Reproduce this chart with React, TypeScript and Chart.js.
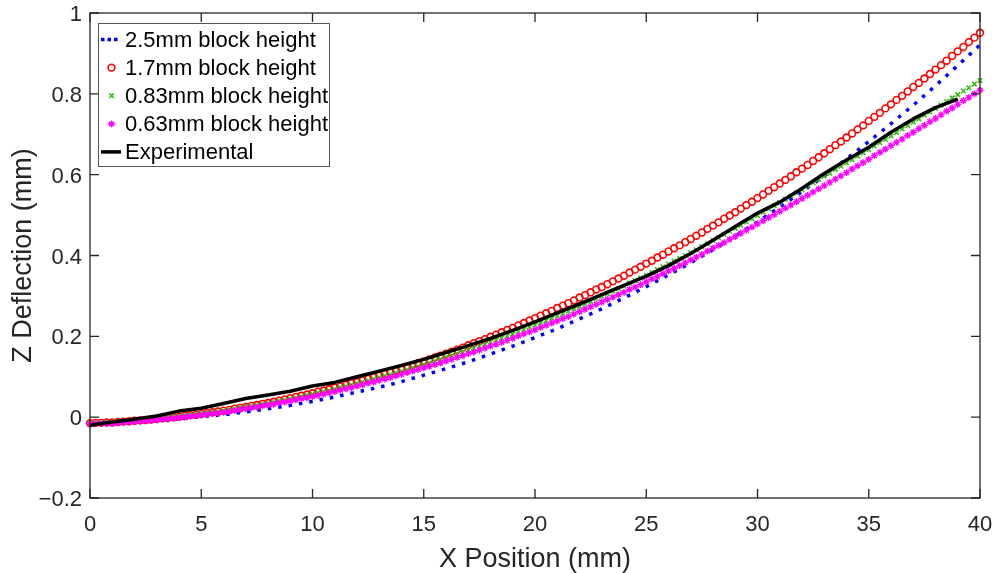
import React, { useEffect, useRef } from 'react';
import { Chart, registerables } from 'chart.js';
import { drawPoint } from 'chart.js/helpers';

Chart.register(...registerables);

const FONT = "'Liberation Sans', Arial, Helvetica, sans-serif";

// x spacing (mm) of each data set
const SIM_STEP = 0.25;
const BLUE_STEP = 1;
const EXP_STEP = 1;

const LABELS = [
  '2.5mm block height',
  '1.7mm block height',
  '0.83mm block height',
  '0.63mm block height',
  'Experimental',
];

// 2.5mm block height (x = 0..40 step 1)
const h25 = [
  -0.015, -0.014, -0.011, -0.008, -0.004, 0.001, 0.006, 0.013, 0.021, 0.029,
  0.039, 0.05, 0.062, 0.074, 0.088, 0.104, 0.12, 0.137, 0.156, 0.176,
  0.197, 0.219, 0.243, 0.268, 0.295, 0.323, 0.352, 0.382, 0.414, 0.448,
  0.483, 0.52, 0.558, 0.597, 0.639, 0.682, 0.726, 0.772, 0.82, 0.87, 0.921,
];

// 1.7mm block height (x = 0..40 step 0.25)
const h17 = [
  -0.015, -0.014, -0.014, -0.013, -0.013, -0.012, -0.011, -0.01, -0.009, -0.008,
  -0.007, -0.006, -0.004, -0.003, -0.002, 0.0, 0.001, 0.003, 0.005, 0.006,
  0.008, 0.01, 0.012, 0.014, 0.016, 0.018, 0.021, 0.023, 0.025, 0.028,
  0.03, 0.033, 0.035, 0.038, 0.041, 0.044, 0.047, 0.05, 0.053, 0.056,
  0.059, 0.063, 0.066, 0.069, 0.073, 0.076, 0.08, 0.084, 0.087, 0.091,
  0.095, 0.099, 0.103, 0.107, 0.112, 0.116, 0.12, 0.125, 0.129, 0.134,
  0.138, 0.143, 0.148, 0.152, 0.157, 0.162, 0.167, 0.172, 0.178, 0.183,
  0.188, 0.193, 0.199, 0.204, 0.21, 0.216, 0.221, 0.227, 0.233, 0.239,
  0.245, 0.251, 0.257, 0.263, 0.27, 0.276, 0.282, 0.289, 0.296, 0.302,
  0.309, 0.316, 0.322, 0.329, 0.336, 0.343, 0.35, 0.358, 0.365, 0.372,
  0.38, 0.387, 0.395, 0.402, 0.41, 0.418, 0.425, 0.433, 0.441, 0.449,
  0.457, 0.466, 0.474, 0.482, 0.491, 0.499, 0.507, 0.516, 0.525, 0.533,
  0.542, 0.551, 0.56, 0.569, 0.578, 0.587, 0.596, 0.606, 0.615, 0.624,
  0.634, 0.643, 0.653, 0.663, 0.673, 0.682, 0.692, 0.702, 0.712, 0.722,
  0.733, 0.743, 0.753, 0.764, 0.774, 0.785, 0.795, 0.806, 0.817, 0.827,
  0.838, 0.849, 0.86, 0.871, 0.882, 0.894, 0.905, 0.916, 0.928, 0.939, 0.951,
];

// 0.83mm block height (x = 0..40 step 0.25)
const h083 = [
  -0.015, -0.014, -0.014, -0.013, -0.012, -0.011, -0.011, -0.01, -0.009, -0.008,
  -0.006, -0.005, -0.004, -0.003, -0.001, 0.0, 0.002, 0.003, 0.005, 0.007,
  0.008, 0.01, 0.012, 0.014, 0.016, 0.018, 0.02, 0.023, 0.025, 0.027,
  0.029, 0.032, 0.034, 0.037, 0.04, 0.042, 0.045, 0.048, 0.051, 0.054,
  0.057, 0.06, 0.063, 0.066, 0.069, 0.073, 0.076, 0.08, 0.083, 0.087,
  0.09, 0.094, 0.098, 0.102, 0.105, 0.109, 0.113, 0.117, 0.122, 0.126,
  0.13, 0.134, 0.139, 0.143, 0.148, 0.152, 0.157, 0.161, 0.166, 0.171,
  0.176, 0.181, 0.186, 0.191, 0.196, 0.201, 0.206, 0.212, 0.217, 0.223,
  0.228, 0.234, 0.239, 0.245, 0.251, 0.256, 0.262, 0.268, 0.274, 0.28,
  0.286, 0.293, 0.299, 0.305, 0.312, 0.318, 0.324, 0.331, 0.338, 0.344,
  0.351, 0.358, 0.365, 0.372, 0.379, 0.386, 0.393, 0.4, 0.407, 0.414,
  0.422, 0.429, 0.437, 0.444, 0.452, 0.46, 0.467, 0.475, 0.483, 0.491,
  0.499, 0.507, 0.515, 0.523, 0.531, 0.539, 0.547, 0.555, 0.563, 0.572,
  0.58, 0.588, 0.596, 0.604, 0.613, 0.621, 0.629, 0.637, 0.646, 0.654,
  0.662, 0.671, 0.679, 0.687, 0.696, 0.704, 0.713, 0.721, 0.73, 0.738,
  0.747, 0.755, 0.764, 0.772, 0.781, 0.79, 0.798, 0.807, 0.815, 0.824, 0.833,
];

// 0.63mm block height (x = 0..40 step 0.25)
const h063 = [
  -0.017, -0.016, -0.016, -0.015, -0.015, -0.014, -0.013, -0.012, -0.011, -0.01,
  -0.009, -0.008, -0.007, -0.005, -0.004, -0.003, -0.001, 0.0, 0.002, 0.003,
  0.005, 0.007, 0.009, 0.01, 0.012, 0.014, 0.016, 0.019, 0.021, 0.023,
  0.025, 0.028, 0.03, 0.032, 0.035, 0.037, 0.04, 0.043, 0.046, 0.048,
  0.051, 0.054, 0.057, 0.06, 0.063, 0.067, 0.07, 0.073, 0.077, 0.08,
  0.084, 0.087, 0.091, 0.094, 0.098, 0.102, 0.106, 0.11, 0.114, 0.118,
  0.122, 0.126, 0.13, 0.134, 0.139, 0.143, 0.148, 0.152, 0.157, 0.161,
  0.166, 0.171, 0.176, 0.18, 0.185, 0.19, 0.195, 0.201, 0.206, 0.211,
  0.216, 0.222, 0.227, 0.233, 0.238, 0.244, 0.249, 0.255, 0.261, 0.267,
  0.273, 0.279, 0.285, 0.291, 0.297, 0.303, 0.309, 0.316, 0.322, 0.328,
  0.335, 0.342, 0.348, 0.355, 0.362, 0.368, 0.375, 0.382, 0.389, 0.396,
  0.403, 0.411, 0.418, 0.425, 0.432, 0.44, 0.447, 0.455, 0.463, 0.47,
  0.478, 0.486, 0.494, 0.501, 0.509, 0.517, 0.525, 0.533, 0.541, 0.549,
  0.557, 0.565, 0.573, 0.581, 0.589, 0.597, 0.605, 0.614, 0.622, 0.63,
  0.638, 0.647, 0.655, 0.663, 0.672, 0.68, 0.688, 0.697, 0.705, 0.714,
  0.722, 0.731, 0.739, 0.748, 0.757, 0.765, 0.774, 0.783, 0.791, 0.8, 0.809,
];

// Experimental (x = 0..39 step 1)
const experimental = [
  -0.02, -0.012, -0.005, 0.003, 0.015, 0.022, 0.034, 0.046, 0.055, 0.064,
  0.077, 0.086, 0.1, 0.114, 0.128, 0.143, 0.16, 0.177, 0.195, 0.215,
  0.236, 0.258, 0.28, 0.303, 0.326, 0.349, 0.375, 0.405, 0.438, 0.472,
  0.505, 0.532, 0.566, 0.603, 0.636, 0.668, 0.705, 0.738, 0.766, 0.787,
];

const toPoints = (vals: number[], step: number) =>
  vals.map((v, i) => ({ x: i * step, y: v }));

const matlabAxes = {
  id: 'matlabAxes',
  afterDatasetsDraw(chart: any) {
    const { ctx, chartArea: a, scales } = chart;
    const x = scales.x;
    const y = scales.y;
    const L = 9;
    ctx.save();
    ctx.strokeStyle = '#262626';
    ctx.lineWidth = 1.3;
    ctx.beginPath();
    x.ticks.forEach((t: any) => {
      const px = x.getPixelForValue(t.value);
      ctx.moveTo(px, a.bottom);
      ctx.lineTo(px, a.bottom - L);
      ctx.moveTo(px, a.top);
      ctx.lineTo(px, a.top + L);
    });
    y.ticks.forEach((t: any) => {
      const py = y.getPixelForValue(t.value);
      ctx.moveTo(a.left, py);
      ctx.lineTo(a.left + L, py);
      ctx.moveTo(a.right, py);
      ctx.lineTo(a.right - L, py);
    });
    ctx.stroke();
    ctx.strokeRect(a.left, a.top, a.right - a.left, a.bottom - a.top);
    ctx.restore();
  },
};

const insetLegend = {
  id: 'insetLegend',
  afterDraw(chart: any) {
    const { ctx, chartArea } = chart;
    const left = chartArea.left + 8;
    const top = chartArea.top + 10;
    const w = 231;
    const h = 143;
    ctx.save();
    ctx.fillStyle = '#ffffff';
    ctx.fillRect(left, top, w, h);
    ctx.strokeStyle = '#555555';
    ctx.lineWidth = 1;
    ctx.strokeRect(left + 0.5, top + 0.5, w, h);
    ctx.font = `22px ${FONT}`;
    ctx.textBaseline = 'middle';
    ctx.textAlign = 'left';
    chart.data.datasets.forEach((ds: any, i: number) => {
      const cy = top + 16.5 + i * 28.1;
      const cx = left + 13.5;
      ctx.save();
      if (ds.showLine) {
        ctx.strokeStyle = ds.borderColor;
        ctx.lineWidth = ds.borderWidth;
        ctx.setLineDash(ds.borderDash ? [3.5, 3] : []);
        ctx.beginPath();
        ctx.moveTo(left + 3, cy);
        ctx.lineTo(left + (ds.borderDash ? 20.5 : 23), cy);
        ctx.stroke();
      } else {
        ctx.strokeStyle = ds.pointBorderColor;
        ctx.fillStyle = 'rgba(0,0,0,0)';
        ctx.lineWidth = ds.pointBorderWidth;
        drawPoint(
          ctx,
          {
            pointStyle: ds.pointStyle,
            radius: ds.pointRadius,
            borderWidth: ds.pointBorderWidth,
            rotation: 0,
          } as any,
          cx,
          cy
        );
      }
      ctx.restore();
      ctx.fillStyle = '#000000';
      ctx.fillText(ds.label, left + 27, cy + 1);
    });
    ctx.restore();
  },
};

export default function App() {
  const ref = useRef<HTMLCanvasElement | null>(null);

  useEffect(() => {
    if (!ref.current) return;
    const chart = new Chart(ref.current, {
      type: 'scatter',
      data: {
        datasets: [
          {
            label: LABELS[0],
            data: toPoints(h25, BLUE_STEP),
            showLine: true,
            borderColor: '#0000ff',
            borderWidth: 3.5,
            borderDash: [3.5, 7],
            pointRadius: 0,
            tension: 0,
            order: 5,
          },
          {
            label: LABELS[1],
            data: toPoints(h17, SIM_STEP),
            showLine: false,
            pointStyle: 'circle',
            pointRadius: 3.4,
            pointBorderWidth: 1.6,
            pointBorderColor: '#ff0000',
            pointBackgroundColor: 'rgba(0,0,0,0)',
            clip: false,
            order: 4,
          },
          {
            label: LABELS[2],
            data: toPoints(h083, SIM_STEP),
            showLine: false,
            pointStyle: 'crossRot',
            pointRadius: 3.2,
            pointBorderWidth: 1.6,
            pointBorderColor: '#3dbb1a',
            pointBackgroundColor: '#3dbb1a',
            clip: false,
            order: 3,
          },
          {
            label: LABELS[3],
            data: toPoints(h063, SIM_STEP),
            showLine: false,
            pointStyle: 'star',
            pointRadius: 3.4,
            pointBorderWidth: 1.4,
            pointBorderColor: '#ff00ff',
            pointBackgroundColor: '#ff00ff',
            clip: false,
            order: 2,
          },
          {
            label: LABELS[4],
            data: toPoints(experimental, EXP_STEP),
            showLine: true,
            borderColor: '#000000',
            borderWidth: 3.5,
            borderJoinStyle: 'round',
            pointRadius: 0,
            tension: 0,
            order: 1,
          },
        ] as any,
      },
      options: {
        animation: false,
        responsive: false,
        events: [],
        layout: { padding: { left: 0, top: 13, right: 16, bottom: 0 } },
        plugins: {
          legend: { display: false },
          tooltip: { enabled: false },
        },
        scales: {
          x: {
            type: 'linear',
            min: 0,
            max: 40,
            grid: { display: false, drawTicks: false },
            border: { display: false },
            ticks: {
              stepSize: 5,
              color: '#262626',
              font: { family: FONT, size: 22 },
              padding: 14,
              maxRotation: 0,
              autoSkip: false,
            },
            title: {
              display: true,
              text: 'X Position (mm)',
              color: '#262626',
              font: { family: FONT, size: 27, lineHeight: 1 },
              padding: { top: 0, bottom: 0 },
            },
            afterFit: (s: any) => {
              s.height = 75;
              s.paddingLeft = 0;
              s.paddingRight = 0;
            },
          },
          y: {
            type: 'linear',
            min: -0.2,
            max: 1,
            grid: { display: false, drawTicks: false },
            border: { display: false },
            ticks: {
              stepSize: 0.2,
              color: '#262626',
              font: { family: FONT, size: 22 },
              padding: 8,
              labelOffset: 2,
              callback: (v: any) => {
                const r = Math.round(Number(v) * 10) / 10;
                return (r < 0 ? '\u2212' : '') + String(Math.abs(r));
              },
            },
            title: {
              display: true,
              text: 'Z Deflection (mm)',
              color: '#262626',
              font: { family: FONT, size: 27, lineHeight: 1 },
              padding: { top: 10, bottom: 0 },
            },
            afterFit: (s: any) => {
              s.width = 90;
              s.paddingTop = 0;
              s.paddingBottom = 0;
            },
          },
        },
      } as any,
      plugins: [matlabAxes, insetLegend],
    });
    return () => chart.destroy();
  }, []);

  return (
    <div style={{ position: 'fixed', left: 0, top: 0, width: 996, height: 573, background: '#ffffff' }}>
      <canvas ref={ref} width={996} height={573} style={{ display: 'block', width: 996, height: 573 }} />
    </div>
  );
}
